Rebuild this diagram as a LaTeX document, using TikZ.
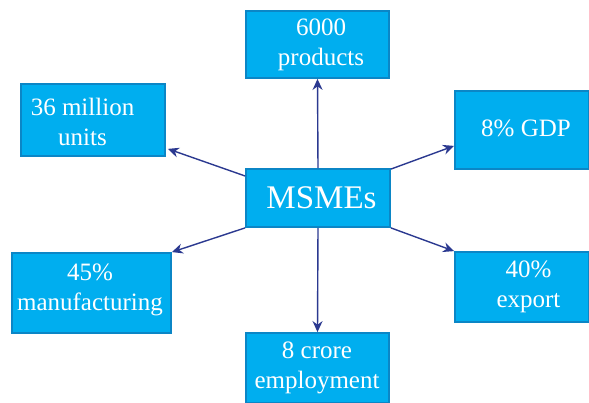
\documentclass[tikz,border=0pt]{standalone}
\usepackage{fontspec}
\setmainfont{Liberation Serif}
\usetikzlibrary{arrows.meta,calc}
\definecolor{boxfill}{HTML}{00AEEF}
\definecolor{boxedge}{HTML}{0B86C6}
\definecolor{arrowblue}{HTML}{2B3990}
\begin{document}
\begin{tikzpicture}[x=1pt,y=1pt,
  box/.style={rectangle, fill=boxfill, draw=boxedge, line width=1.8pt, inner sep=0pt},
  lbl/.style={text=white, align=center, font=\rmfamily\fontsize{25}{30}\selectfont, inner sep=0pt},
  conn/.style={draw=arrowblue, line width=1.4pt, -{Stealth[length=11pt,width=10pt]}}]
\useasboundingbox (0,0) rectangle (589,403);
% boxes
\node[box, minimum width=143pt, minimum height=67pt] (prod) at (317.5,358.5) {};
\node[box, minimum width=144pt, minimum height=72pt] (mil) at (93,283) {};
\node[box, minimum width=144pt, minimum height=58pt] (msme) at (318,205) {};
\node[box, minimum width=159pt, minimum height=80pt] (manu) at (91.5,110) {};
\node[box, minimum width=134pt, minimum height=78pt] (gdp) at (522,273) {};
\node[box, minimum width=134pt, minimum height=70pt] (exp) at (522,116) {};
\node[box, minimum width=143pt, minimum height=70pt] (crore) at (317.5,35) {};
% texts
\node[lbl] (prodt) at (321,358) {6000\\products};
\node[lbl] (milt) at (82.5,281) {36 million\\units};
\node[lbl, font=\rmfamily\fontsize{33}{38}\selectfont] (msmet) at (321.5,205) {MSMEs};
\node[lbl] (manut) at (90,113) {45\%\\manufacturing};
\node[lbl] (gdpt) at (526,275) {8\% GDP};
\node[lbl] (expt) at (528.5,116.5) {40\%\\export};
\node[lbl] (croret) at (317,35.5) {8 crore\\employment};
% connectors
\draw[conn] (msme.north) -- (prod.south);
\draw[conn] ($(msme.west)+(0,22)$) -- ($(mil.south east)+(2,8)$);
\draw[conn] ($(msme.north east)+(0,-1)$) -- ($(gdp.south west)+(0,24)$);
\draw[conn] (msme.south west) -- (manu.north east);
\draw[conn] (msme.south east) -- (exp.north west);
\draw[conn] (msme.south) -- (crore.north);
\end{tikzpicture}
\end{document}
